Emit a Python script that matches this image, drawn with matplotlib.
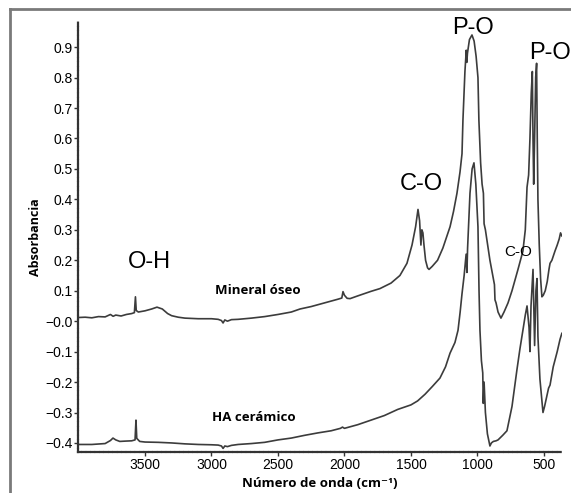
import matplotlib
matplotlib.use("Agg")
import matplotlib.pyplot as plt
from matplotlib.lines import Line2D

# espectro FTIR - mineral óseo (curva superior)
wn_mineral = [4000, 3950, 3900, 3850, 3800, 3760, 3740, 3720, 3680, 3640, 3600, 3580, 3572, 3566,
              3550, 3500, 3450, 3410, 3370, 3330, 3300, 3250, 3200, 3100, 3000, 2950, 2925, 2913,
              2900, 2880, 2850, 2800, 2700, 2600, 2500, 2400, 2334, 2250, 2150, 2100, 2050, 2020,
              2011, 2000, 1980, 1958, 1900, 1800, 1733, 1650, 1583, 1530, 1492, 1465, 1447, 1435,
              1425, 1418, 1410, 1402, 1390, 1375, 1364, 1340, 1300, 1260, 1229, 1206, 1180, 1154,
              1131, 1116, 1109, 1094, 1084, 1080, 1075, 1060, 1041, 1025, 1010, 996, 989, 976,
              965, 955, 950, 940, 920, 906, 885, 872, 868, 860, 845, 823, 800, 770, 740, 695, 658,
              640, 627, 615, 605, 595, 587, 582, 577, 570, 562, 555, 550, 545, 535, 525, 515,
              505, 490, 475, 462, 454, 440, 417, 400, 385, 375, 365]
abs_mineral = [0.012, 0.013, 0.011, 0.015, 0.014, 0.022, 0.016, 0.020, 0.017, 0.022, 0.025, 0.028,
               0.080, 0.035, 0.030, 0.034, 0.040, 0.046, 0.040, 0.025, 0.018, 0.013, 0.010, 0.008,
               0.008, 0.006, 0.002, -0.006, 0.004, 0.000, 0.005, 0.006, 0.010, 0.015, 0.022, 0.030,
               0.040, 0.048, 0.060, 0.066, 0.072, 0.076, 0.097, 0.085, 0.075, 0.074, 0.083, 0.098,
               0.107, 0.125, 0.150, 0.190, 0.250, 0.310, 0.367, 0.330, 0.250, 0.300, 0.290, 0.250,
               0.200, 0.175, 0.170, 0.180, 0.200, 0.240, 0.280, 0.310, 0.360, 0.420,
               0.490, 0.550, 0.660, 0.820, 0.890, 0.850, 0.880, 0.925, 0.940, 0.920, 0.870, 0.800,
               0.660, 0.520, 0.450, 0.420, 0.320, 0.300, 0.240, 0.200, 0.150, 0.120, 0.070, 0.060,
               0.030, 0.010, 0.030, 0.060, 0.100, 0.170, 0.230, 0.300, 0.440, 0.480, 0.600, 0.750,
               0.820, 0.600, 0.450, 0.600, 0.800, 0.847, 0.600, 0.400, 0.250, 0.140, 0.080, 0.085,
               0.100, 0.130, 0.170, 0.190, 0.200, 0.230, 0.250, 0.270, 0.290, 0.280]

# espectro FTIR - HA cerámico (curva inferior)
wn_ha = [4000, 3900, 3800, 3760, 3741, 3720, 3690, 3650, 3600, 3575, 3568, 3562, 3540, 3500, 3400,
         3300, 3200, 3100, 3000, 2950, 2925, 2913, 2900, 2880, 2850, 2800, 2700, 2600, 2500, 2400,
         2300, 2200, 2100, 2030, 2015, 2000, 1900, 1800, 1700, 1600, 1500, 1450, 1394, 1340, 1282,
         1240, 1206, 1169, 1146, 1130, 1116, 1100, 1085, 1079, 1074, 1056, 1040, 1026, 1012, 996,
         988, 981, 970, 960, 956, 950, 940, 925, 906, 895, 880, 860, 845, 810, 778, 740, 703, 680,
         658, 640, 627, 612, 605, 597, 582, 570, 560, 552, 545, 530, 507, 495, 475, 465, 454, 430,
         400, 379, 365]
abs_ha = [-0.405, -0.405, -0.402, -0.392, -0.384, -0.390, -0.395, -0.394, -0.393, -0.390, -0.325,
          -0.385, -0.395, -0.397, -0.398, -0.400, -0.403, -0.405, -0.406, -0.407, -0.410, -0.418,
          -0.410, -0.412, -0.408, -0.405, -0.402, -0.398, -0.390, -0.384, -0.375, -0.367, -0.360,
          -0.352, -0.348, -0.352, -0.340, -0.325, -0.310, -0.290, -0.275, -0.262, -0.240, -0.215,
          -0.187, -0.150, -0.105, -0.070, -0.030, 0.030, 0.090, 0.150, 0.220, 0.160, 0.240, 0.420,
          0.500, 0.520, 0.450, 0.310, 0.100, -0.030, -0.130, -0.170, -0.270, -0.200, -0.300,
          -0.370, -0.410, -0.400, -0.395, -0.393, -0.390, -0.375, -0.360, -0.280, -0.160, -0.090,
          -0.030, 0.020, 0.050, -0.020, -0.100, 0.050, 0.170, -0.080, 0.100, 0.140, -0.050,
          -0.190, -0.300, -0.280, -0.240, -0.220, -0.210, -0.150, -0.100, -0.060, -0.040]

y_ticks = [0.9, 0.8, 0.7, 0.6, 0.5, 0.4, 0.3, 0.2, 0.1, 0.0, -0.1, -0.2, -0.3, -0.4]
y_labels = ["0.9", "0.8", "0.7", "0.6", "0.5", "0.4", "0.3", "0.2", "0.1",
            "\u22120.0", "\u22120.1", "\u22120.2", "\u22120.3", "\u22120.4"]
x_ticks = [3500, 3000, 2500, 2000, 1500, 1000, 500]

bands = [("O-H", 3470, 0.194, 17), ("C-O", 1424, 0.45, 17), ("P-O", 1034, 0.962, 17),
         ("C-O", 695, 0.227, 11)]

plt.rcParams['font.family'] = ['Liberation Sans', 'DejaVu Sans']
bold_font = ['Open Sans', 'DejaVu Sans']

fig = plt.figure(figsize=(5.71, 4.93), dpi=100)
ax = fig.add_axes([0.1366, 0.083, 0.8474, 0.872])

ax.plot(wn_mineral, abs_mineral, color='#3c3c3c', lw=1.2)
ax.plot(wn_ha, abs_ha, color='#3c3c3c', lw=1.2)

ax.set_xlim(4004, 365)
ax.set_ylim(-0.43, 0.982)
ax.set_xticks(x_ticks)
ax.set_yticks(y_ticks)
ax.set_yticklabels(y_labels)
ax.tick_params(labelsize=10, length=3, width=1, pad=1, color='#333333')

for s in ['top', 'right']:
    ax.spines[s].set_visible(False)
for s in ['left', 'bottom']:
    ax.spines[s].set_color('#333333')
    ax.spines[s].set_linewidth(1.6)
    ax.spines[s].set_linestyle((0, (1.2, 0.8)))

for txt, x, y, fs in bands:
    ax.text(x, y, txt, fontsize=fs, ha='center', va='center', clip_on=False)
ax.text(613, 0.88, "P-O", fontsize=17, ha='left', va='center', clip_on=False)

ax.text(2650, 0.102, "Mineral óseo", fontsize=9.5, fontweight='bold', family=bold_font,
        ha='center', va='center')
ax.text(2680, -0.318, "HA cerámico", fontsize=9.5, fontweight='bold', family=bold_font,
        ha='center', va='center')

ax.set_ylabel("Absorbancia", fontsize=9, fontweight='bold', family=bold_font, labelpad=2)
ax.set_xlabel("Número de onda (cm\u207b\u00b9)", fontsize=9.5, fontweight='bold',
              family=bold_font, labelpad=4)

# marco gris alrededor de la imagen
fig.add_artist(Line2D([10 / 571, 1], [1 - 9 / 493, 1 - 9 / 493], color='#7a7a7a', lw=2,
                      transform=fig.transFigure))
fig.add_artist(Line2D([10 / 571, 10 / 571], [0, 1 - 9 / 493], color='#7a7a7a', lw=2,
                      transform=fig.transFigure))

fig.savefig("out.png", dpi=100)
